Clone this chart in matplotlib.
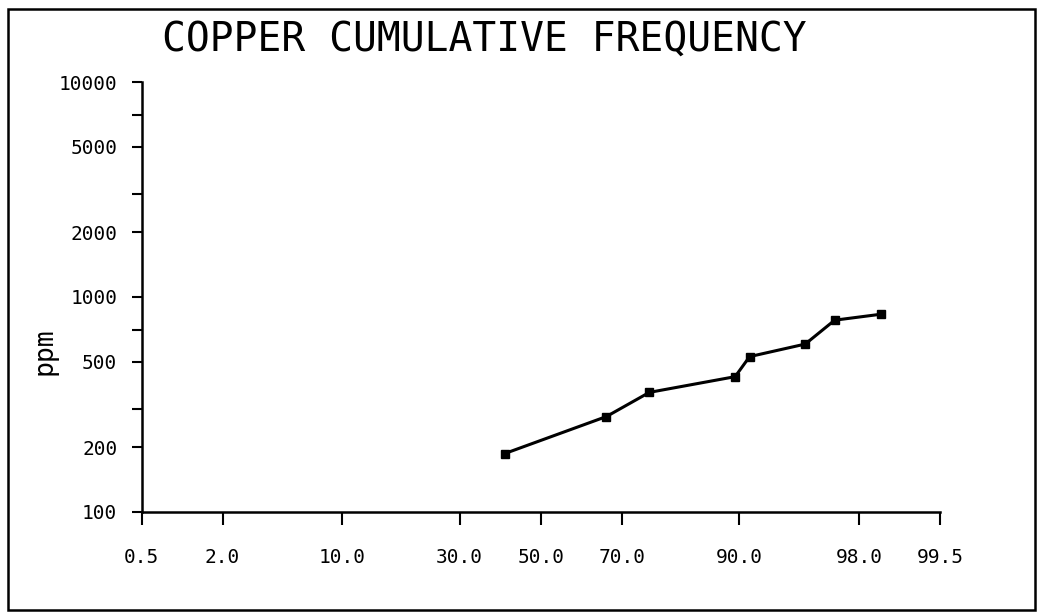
import numpy as np
import matplotlib
matplotlib.use("Agg")
import matplotlib.pyplot as plt
from matplotlib.patches import Rectangle
from statistics import NormalDist

# cumulative frequency (%) vs copper (ppm)
cum_pct = [40.8, 66.4, 75.8, 89.5, 91.1, 95.6, 97.1, 98.6]
cu_ppm = [187, 278, 360, 426, 528, 604, 780, 832]

x_ticks = [0.5, 2.0, 10.0, 30.0, 50.0, 70.0, 90.0, 98.0, 99.5]
x_labels = ["0.5", "2.0", "10.0", "30.0", "50.0", "70.0", "90.0", "98.0", "99.5"]
y_ticks = [100, 200, 500, 1000, 2000, 5000, 10000]
y_minor = [300, 700, 3000, 7000]

nd = NormalDist()
_inv = np.vectorize(nd.inv_cdf, otypes=[float])
_cdf = np.vectorize(nd.cdf, otypes=[float])


def prob_fwd(p):
    p = np.clip(np.asarray(p, dtype=float) / 100.0, 1e-9, 1 - 1e-9)
    return _inv(p)


def prob_inv(z):
    return _cdf(np.asarray(z, dtype=float)) * 100.0


plt.rcParams["font.family"] = ["DejaVu Sans Mono", "DejaVu Sans"]

fig = plt.figure(figsize=(10.37, 6.13), dpi=100)
ax = fig.add_axes([0.1366, 0.1648, 0.9065 - 0.1366, 0.8662 - 0.1648])

ax.set_xscale("function", functions=(prob_fwd, prob_inv))
ax.set_yscale("log")
ax.set_xlim(0.5, 99.5)
ax.set_ylim(100, 10000)

ax.plot(cum_pct, cu_ppm, color="black", lw=2.2, marker="s", ms=5.5,
        solid_joinstyle="round")

for s in ["top", "right"]:
    ax.spines[s].set_visible(False)
for s in ["left", "bottom"]:
    ax.spines[s].set_linewidth(1.8)

ax.set_xticks(x_ticks)
ax.set_xticklabels(x_labels)
ax.xaxis.set_minor_locator(matplotlib.ticker.NullLocator())
ax.set_yticks(y_ticks)
ax.set_yticklabels([str(v) for v in y_ticks])
ax.set_yticks(y_minor, minor=True)
ax.yaxis.set_minor_formatter(matplotlib.ticker.NullFormatter())

ax.tick_params(axis="x", which="both", direction="out", length=9, width=1.5,
               pad=17, labelsize=14)
ax.tick_params(axis="y", which="both", direction="out", length=7.5, width=1.5,
               pad=10, labelsize=14)

fig.text(484 / 1037, 1 - 40 / 613, "COPPER CUMULATIVE FREQUENCY",
         ha="center", va="center", fontsize=28.5)
fig.text(45 / 1037, 1 - 351 / 613, "ppm", rotation=90,
         ha="center", va="center", fontsize=19)

# outer frame around the whole plot
fig.patches.append(Rectangle((8 / 1037, 1 - 610 / 613), 1027 / 1037, 601 / 613,
                             transform=fig.transFigure, fill=False,
                             edgecolor="black", lw=1.8))

fig.savefig("out.png", dpi=100)
plt.close(fig)
